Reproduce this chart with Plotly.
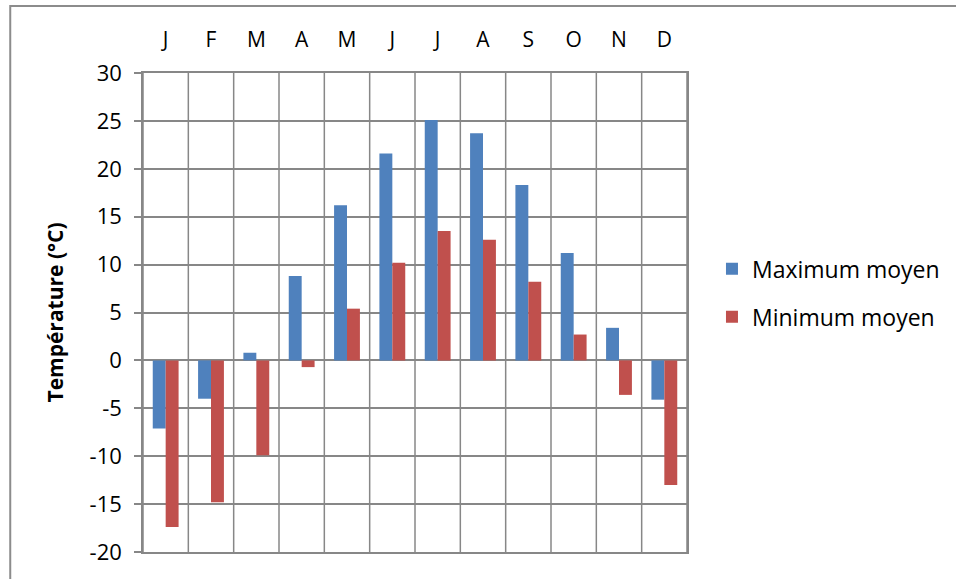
import plotly.graph_objects as go

months = ["J", "F", "M", "A", "M", "J", "J", "A", "S", "O", "N", "D"]
max_moyen = [-7.1, -4.0, 0.8, 8.8, 16.2, 21.6, 25.1, 23.7, 18.3, 11.2, 3.4, -4.1]
min_moyen = [-17.4, -14.8, -9.9, -0.7, 5.4, 10.2, 13.5, 12.6, 8.2, 2.7, -3.6, -13.0]
y_ticks = [30, 25, 20, 15, 10, 5, 0, -5, -10, -15, -20]

x_idx = list(range(len(months)))

GRID = "#878787"
FONT = "Open Sans"

fig = go.Figure()
fig.add_trace(go.Bar(x=x_idx, y=max_moyen, name="Maximum moyen",
                     marker=dict(color="#4F81BD", line=dict(width=0)),
                     legendgroup="a"))
fig.add_trace(go.Bar(x=x_idx, y=min_moyen, name="Minimum moyen",
                     marker=dict(color="#C0504D", line=dict(width=0)),
                     legendgroup="b"))

fig.update_layout(
    width=956, height=579,
    margin=dict(l=143, r=268, t=73, b=27),
    paper_bgcolor="white", plot_bgcolor="white",
    barmode="group", bargap=0.43, bargroupgap=0,
    font=dict(family=FONT, color="black", size=21),
    legend=dict(x=1.044, y=0.636, xanchor="left", yanchor="top",
                font=dict(size=23, family=FONT), tracegroupgap=15,
                bgcolor="rgba(0,0,0,0)"),
    showlegend=True,
)

fig.update_xaxes(
    type="linear", side="top",
    tickmode="array", tickvals=x_idx, ticktext=months,
    range=[-0.5, 11.5],
    showgrid=False, zeroline=False,
    showline=True, mirror=True, linecolor=GRID, linewidth=1.5,
    ticks="", ticklabelstandoff=16,
    tickfont=dict(size=21, family=FONT),
)
for i in range(len(months) + 1):
    fig.add_vline(x=i - 0.5, line=dict(color=GRID, width=1.5), layer="below")

fig.update_yaxes(
    range=[-20, 30], tickmode="array", tickvals=y_ticks,
    ticktext=[str(v) for v in y_ticks],
    showgrid=True, gridcolor=GRID, gridwidth=1.5,
    zeroline=True, zerolinecolor=GRID, zerolinewidth=1.5,
    showline=True, mirror=True, linecolor=GRID, linewidth=1.5,
    ticks="outside", ticklen=7, tickcolor=GRID, tickwidth=1.5,
    ticklabelstandoff=8,
    tickfont=dict(size=22, family=FONT),
    title=dict(text="<b>Température (°C)</b>", font=dict(size=21, family=FONT),
               standoff=20),
)

# chart outer border
fig.add_shape(type="rect", xref="paper", yref="paper",
              x0=(10 - 143) / 545, x1=(970 - 143) / 545,
              y0=(552 - 590) / 479, y1=(552 - 6) / 479,
              line=dict(color="#8c8c8c", width=2), fillcolor="rgba(0,0,0,0)")

fig.write_html("out.html", config={"displayModeBar": False},
               post_script="document.body.style.margin='0';document.body.style.overflow='hidden';")
